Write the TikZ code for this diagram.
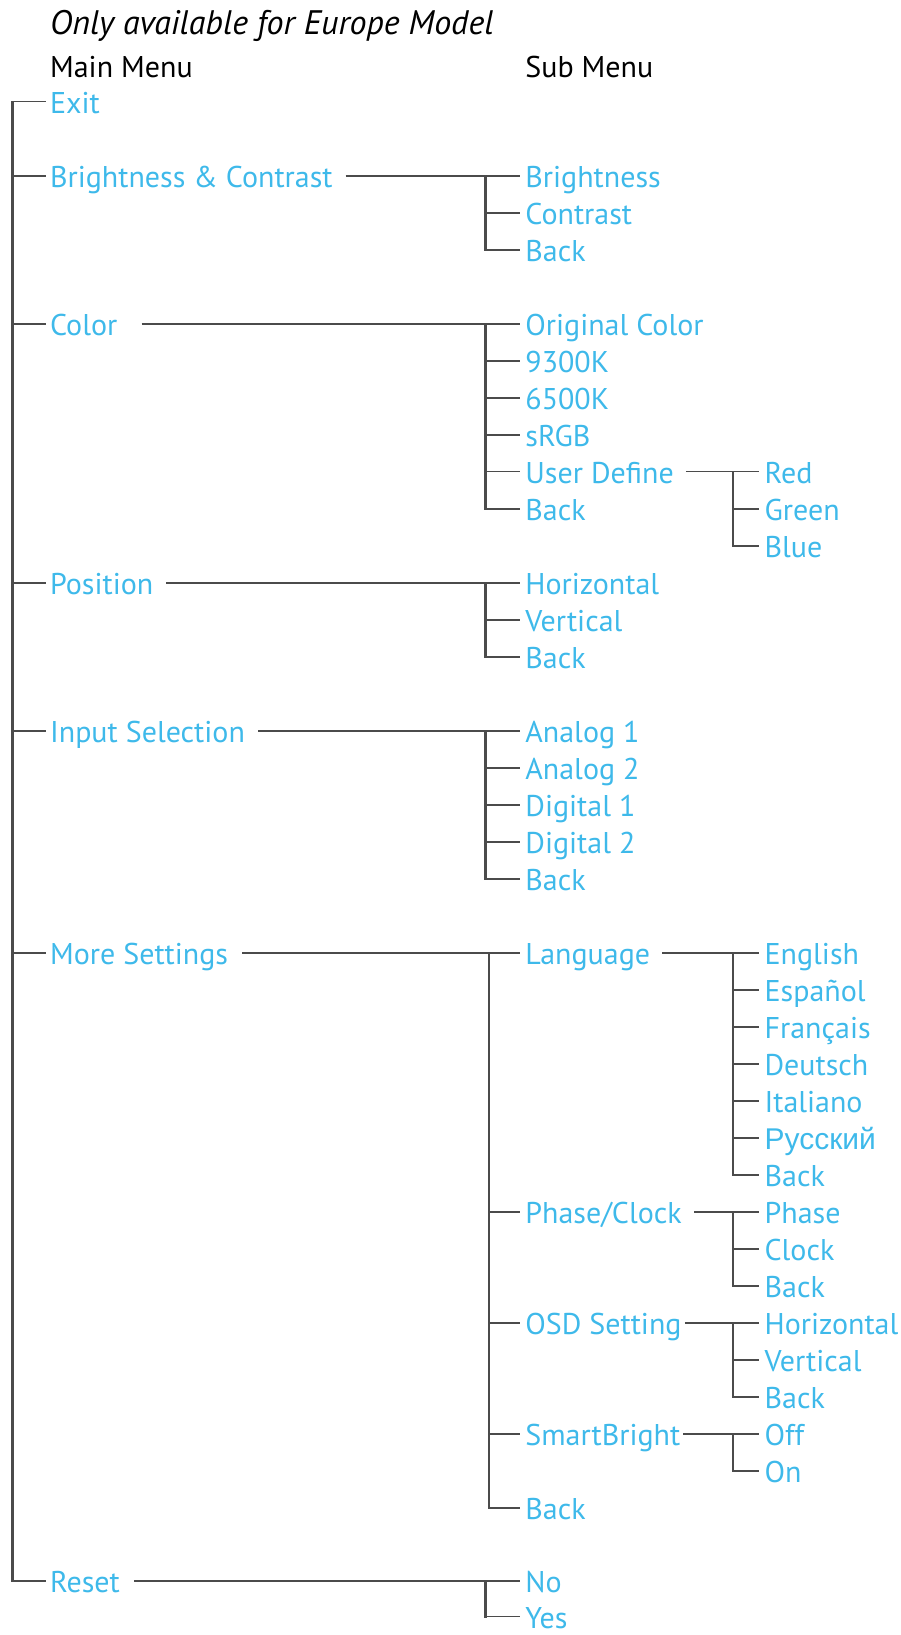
\documentclass[tikz,border=0pt]{standalone}
\usepackage{fontspec}
\setmainfont{PT Sans}
\newfontfamily\rufont{Liberation Sans}
\definecolor{menublue}{RGB}{62,185,234}
\definecolor{linegray}{RGB}{75,75,75}
\begin{document}
\begin{tikzpicture}[x=1.04pt,y=-1.04pt,
  txt/.style={anchor=west,inner sep=0pt,text height=24pt,text depth=0pt,font=\fontsize{30}{33}\selectfont},
  item/.style={txt,text=menublue},
  head/.style={txt,text=black},
  branch/.style={draw=linegray,line width=1.5pt},
  trunk/.style={draw=linegray,line width=2.4pt,line cap=rect},
]
\path[use as bounding box] (0pt,0pt) rectangle (901pt,-1635pt);

% headers
\node[head,font=\itshape\fontsize{34}{37}\selectfont] (title) at (48,22) {Only available for Europe Model};
\node[head] (mainh) at (48,63) {Main Menu};
\node[head] (subh) at (505,63) {Sub Menu};

% main menu
\node[item] (exit)  at (48,97.8)  {Exit};
\node[item] (bc)    at (48,169)   {Brightness \& Contrast};
\node[item] (col)   at (48,311.3) {Color};
\node[item] (pos)   at (48,560.4) {Position};
\node[item] (inp)   at (48,702.7) {Input Selection};
\node[item] (more)  at (48,916.2) {More Settings};
\node[item] (reset) at (48,1520)  {Reset};

% sub menus
\node[item] (b1) at (505,169)   {Brightness};
\node[item] (b2) at (505,204.6) {Contrast};
\node[item] (b3) at (505,240.2) {Back};

\node[item] (c1) at (505,311.3) {Original Color};
\node[item] (c2) at (505,346.9) {9300K};
\node[item] (c3) at (505,382.5) {6500K};
\node[item] (c4) at (505,418.1) {sRGB};
\node[item] (c5) at (505,453.6) {User Define};
\node[item] (c6) at (505,489.2) {Back};

\node[item] (u1) at (735,453.6) {Red};
\node[item] (u2) at (735,489.2) {Green};
\node[item] (u3) at (735,524.8) {Blue};

\node[item] (p1) at (505,560.4) {Horizontal};
\node[item] (p2) at (505,596.0) {Vertical};
\node[item] (p3) at (505,631.5) {Back};

\node[item] (i1) at (505,702.7) {Analog 1};
\node[item] (i2) at (505,738.3) {Analog 2};
\node[item] (i3) at (505,773.9) {Digital 1};
\node[item] (i4) at (505,809.4) {Digital 2};
\node[item] (i5) at (505,845.0) {Back};

\node[item] (m1) at (505,916.2)  {Language};
\node[item] (m2) at (505,1165.2) {Phase/Clock};
\node[item] (m3) at (505,1272.0) {OSD Setting};
\node[item] (m4) at (505,1378.7) {SmartBright};
\node[item] (m5) at (505,1449.9) {Back};

\node[item] (l1) at (735,916.2)  {English};
\node[item] (l2) at (735,951.8)  {Español};
\node[item] (l3) at (735,987.3)  {Français};
\node[item] (l4) at (735,1022.9) {Deutsch};
\node[item] (l5) at (735,1058.5) {Italiano};
\node[item] (l6) at (735,1094.1) {\rufont\fontsize{30}{33}\selectfont Русский};
\node[item] (l7) at (735,1129.7) {Back};

\node[item] (k1) at (735,1165.2) {Phase};
\node[item] (k2) at (735,1200.8) {Clock};
\node[item] (k3) at (735,1236.4) {Back};

\node[item] (o1) at (735,1272.0) {Horizontal};
\node[item] (o2) at (735,1307.6) {Vertical};
\node[item] (o3) at (735,1343.1) {Back};

\node[item] (s1) at (735,1378.7) {Off};
\node[item] (s2) at (735,1414.3) {On};

\node[item] (r1) at (505,1520)   {No};
\node[item] (r2) at (505,1554.5) {Yes};

% trunk x positions
\coordinate (mt) at (12,0);
\coordinate (st) at (467,0);
\coordinate (sm) at (470,0);
\coordinate (tt) at (705,0);

% main trunk
\draw[trunk] (exit.west -| mt) -- (reset.west -| mt);
\foreach \n in {exit,bc,col,pos,inp,more,reset}
  \draw[branch] (\n.west -| mt) -- ([xshift=-4pt]\n.west);

% level 2 groups
\draw[trunk] (b1.west -| st) -- (b3.west -| st);
\foreach \n in {b1,b2,b3} \draw[branch] (\n.west -| st) -- ([xshift=-5pt]\n.west);
\draw[branch] ([xshift=13pt]bc.east) -- (b1.west -| st);

\draw[trunk] (c1.west -| st) -- (c6.west -| st);
\foreach \n in {c1,c2,c3,c4,c5,c6} \draw[branch] (\n.west -| st) -- ([xshift=-5pt]\n.west);
\draw[branch] ([xshift=24pt]col.east) -- (c1.west -| st);

\draw[trunk] (p1.west -| st) -- (p3.west -| st);
\foreach \n in {p1,p2,p3} \draw[branch] (\n.west -| st) -- ([xshift=-5pt]\n.west);
\draw[branch] ([xshift=13pt]pos.east) -- (p1.west -| st);

\draw[trunk] (i1.west -| st) -- (i5.west -| st);
\foreach \n in {i1,i2,i3,i4,i5} \draw[branch] (\n.west -| st) -- ([xshift=-5pt]\n.west);
\draw[branch] ([xshift=13pt]inp.east) -- (i1.west -| st);

\draw[trunk] (m1.west -| sm) -- (m5.west -| sm);
\foreach \n in {m1,m2,m3,m4,m5} \draw[branch] (\n.west -| sm) -- ([xshift=-5pt]\n.west);
\draw[branch] ([xshift=14pt]more.east) -- (m1.west -| sm);

\draw[trunk] (r1.west -| st) -- (r2.west -| st);
\foreach \n in {r1,r2} \draw[branch] (\n.west -| st) -- ([xshift=-5pt]\n.west);
\draw[branch] ([xshift=14pt]reset.east) -- (r1.west -| st);

% level 3 groups
\draw[trunk] (u1.west -| tt) -- (u3.west -| tt);
\foreach \n in {u1,u2,u3} \draw[branch] (\n.west -| tt) -- ([xshift=-5pt]\n.west);
\draw[branch] ([xshift=12pt]c5.east) -- (u1.west -| tt);

\draw[trunk] (l1.west -| tt) -- (l7.west -| tt);
\foreach \n in {l1,l2,l3,l4,l5,l6,l7} \draw[branch] (\n.west -| tt) -- ([xshift=-5pt]\n.west);
\draw[branch] ([xshift=12pt]m1.east) -- (l1.west -| tt);

\draw[trunk] (k1.west -| tt) -- (k3.west -| tt);
\foreach \n in {k1,k2,k3} \draw[branch] (\n.west -| tt) -- ([xshift=-5pt]\n.west);
\draw[branch] ([xshift=12pt]m2.east) -- (k1.west -| tt);

\draw[trunk] (o1.west -| tt) -- (o3.west -| tt);
\foreach \n in {o1,o2,o3} \draw[branch] (\n.west -| tt) -- ([xshift=-5pt]\n.west);
\draw[branch] ([xshift=3pt]m3.east) -- (o1.west -| tt);

\draw[trunk] (s1.west -| tt) -- (s2.west -| tt);
\foreach \n in {s1,s2} \draw[branch] (\n.west -| tt) -- ([xshift=-5pt]\n.west);
\draw[branch] ([xshift=3pt]m4.east) -- (s1.west -| tt);
\end{tikzpicture}
\end{document}
